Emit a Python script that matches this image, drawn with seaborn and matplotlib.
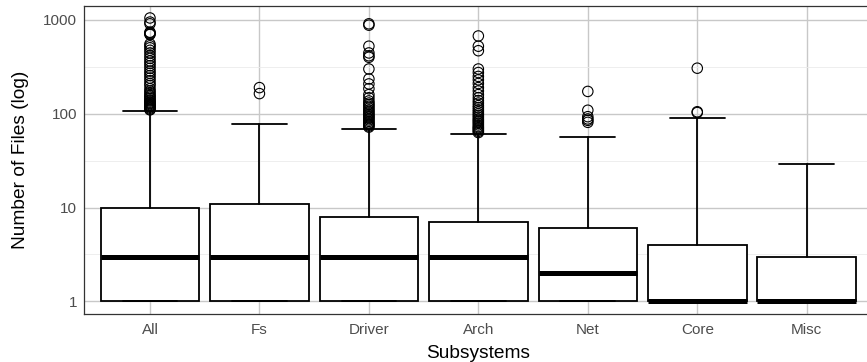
import pandas as pd
import matplotlib
matplotlib.use("Agg")
import matplotlib.pyplot as plt
from matplotlib.ticker import FixedLocator, NullFormatter, FixedFormatter
import seaborn as sns

# Per-subsystem box statistics (number of files touched, log scale)
subsystems = ["All", "Fs", "Driver", "Arch", "Net", "Core", "Misc"]
q1 = [1, 1, 1, 1, 1, 1, 1]
median = [3, 3, 3, 3, 2, 1, 1]
q3 = [10, 11, 8, 7, 6, 4, 3]
whisker_low = [1, 1, 1, 1, 1, 1, 1]
whisker_high = [108, 78, 69, 61, 57, 91, 29]

# Outlying observations per subsystem
outliers_all = [110, 112, 115, 118, 120, 122, 125, 128, 130, 133, 137, 140,
                145, 150, 155, 160, 168, 175, 185, 200, 210, 225, 240, 255,
                270, 285, 305, 325, 345, 365, 390, 415, 445, 475, 505, 530,
                555, 700, 710, 730, 740, 910, 950, 1050]
outliers_fs = [164, 190]
outliers_driver = [72, 74, 76, 78, 80, 83, 86, 89, 92, 95, 98, 102, 106, 110,
                   115, 120, 125, 130, 137, 148, 160, 185, 208, 235, 300, 400,
                   415, 445, 525, 880, 910]
outliers_arch = [63, 65, 67, 69, 71, 73, 76, 79, 82, 85, 88, 92, 96, 100, 105,
                 110, 116, 122, 130, 138, 148, 160, 175, 190, 210, 230, 250,
                 275, 300, 470, 525, 675]
outliers_net = [81, 85, 88, 93, 109, 173]
outliers_core = [103, 105, 306]
outliers_misc = []

y_ticks = [1, 10, 100, 1000]
y_tick_labels = ["1", "10", "100", "1000"]

outlier_lists = [outliers_all, outliers_fs, outliers_driver, outliers_arch,
                 outliers_net, outliers_core, outliers_misc]
outlier_df = pd.DataFrame(
    [(name, v) for name, vals in zip(subsystems, outlier_lists) for v in vals],
    columns=["subsystem", "files"],
)

stats = [
    dict(label=name, q1=a, med=m, q3=b, whislo=lo, whishi=hi, fliers=[])
    for name, a, m, b, lo, hi in zip(subsystems, q1, median, q3,
                                     whisker_low, whisker_high)
]

sns.set_theme(style="white")
plt.rcParams["font.family"] = ["Liberation Sans", "DejaVu Sans"]

fig = plt.figure(figsize=(8.67, 3.62), dpi=100)
ax = fig.add_axes([84.3 / 867, 0.1318, 0.909, 0.8525])
ax.set_yscale("log")

# outliers as open circles
sns.stripplot(data=outlier_df, x="subsystem", y="files", order=subsystems,
              jitter=False, color="black", size=7.5, ax=ax, zorder=4)
for coll in ax.collections:
    coll.set_facecolor("none")
    coll.set_edgecolor("black")
    coll.set_linewidth(0.8)

ax.bxp(stats, positions=range(len(subsystems)), widths=0.9, capwidths=0.5,
       patch_artist=True, showfliers=False, manage_ticks=False,
       boxprops=dict(facecolor="white", edgecolor="black", linewidth=1.3),
       whiskerprops=dict(color="black", linewidth=1.3),
       capprops=dict(color="black", linewidth=1.3),
       medianprops=dict(color="black", linewidth=3.6, solid_capstyle="butt"),
       zorder=3)

ax.set_xlim(-0.6, len(subsystems) - 0.4)
ax.set_ylim(0.727, 1420)
ax.set_xticks(range(len(subsystems)))
ax.set_xticklabels(subsystems)
ax.yaxis.set_major_locator(FixedLocator(y_ticks))
ax.yaxis.set_major_formatter(FixedFormatter(y_tick_labels))
ax.yaxis.set_minor_locator(FixedLocator([10 ** 0.5, 10 ** 1.5, 10 ** 2.5]))
ax.yaxis.set_minor_formatter(NullFormatter())

ax.set_axisbelow(True)
ax.grid(False)
ax.xaxis.grid(True, which="major", color="#C8C8C8", linewidth=1.0)
ax.yaxis.grid(True, which="major", color="#C8C8C8", linewidth=1.0)
ax.yaxis.grid(True, which="minor", color="#EBEBEB", linewidth=0.6)

ax.tick_params(which="major", length=3, width=0.8, color="#333333",
               labelcolor="#4D4D4D", labelsize=11, pad=2)
ax.tick_params(axis="x", which="major", pad=3)
ax.tick_params(which="minor", length=0)

for spine in ax.spines.values():
    spine.set_visible(True)
    spine.set_color("#333333")
    spine.set_linewidth(0.9)

ax.set_xlabel("Subsystems", fontsize=13.75, color="black")
ax.set_ylabel("Number of Files (log)", fontsize=13.75, color="black")
ax.xaxis.set_label_coords(0.5, -0.098)
ax.yaxis.set_label_coords(-0.07, 0.5)

fig.savefig("out.png", dpi=100)
